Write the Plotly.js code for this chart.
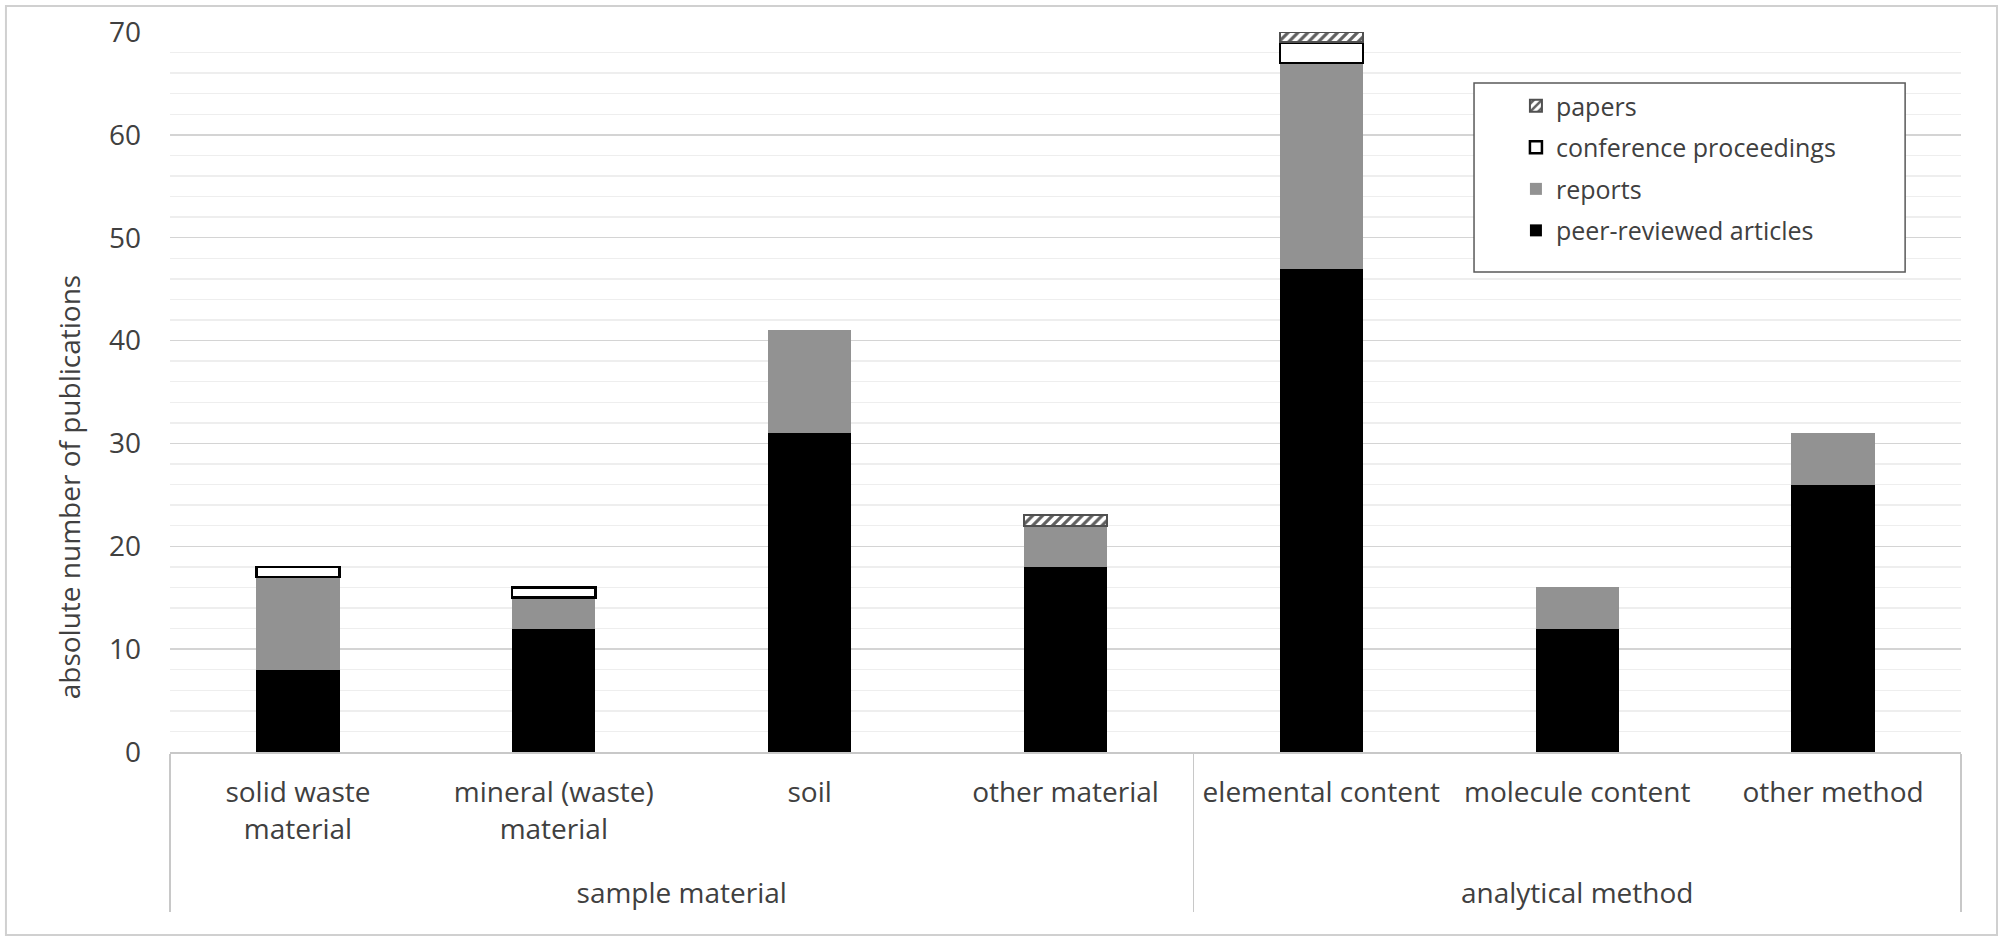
<!DOCTYPE html>
<html>
<head>
<meta charset="utf-8">
<script src="https://cdn.plot.ly/plotly-3.0.1.min.js"></script>
<style>
  body { margin: 0; background: #ffffff; }
  #chart { width: 2000px; height: 937px; }
</style>
</head>
<body>
<div id="chart"></div>
<script>
// Category data (two-level axis)
const groups = ["sample material", "sample material", "sample material", "sample material",
                "analytical method", "analytical method", "analytical method"];
const categories = ["solid waste<br>material", "mineral (waste)<br>material", "soil", "other material",
                    "elemental content", "molecule content", "other method"];

// Publication counts per type
const peerReviewed = [8, 12, 31, 18, 47, 12, 26];
const reports = [9, 3, 10, 4, 20, 4, 5];
const conference = [1, 1, 0, 0, 2, 0, 0];
const papers = [0, 0, 0, 1, 1, 0, 0];

// Empty segments should not draw an outline
const noZero = arr => arr.map(v => v === 0 ? null : v);

// small trailing line pushes the group labels a bit lower, like in Excel
const catLabels = categories.map(c => c.includes("<br>") ? c + "<br><span style='font-size:36px'>&nbsp;</span>" : c);

const xVals = [groups, catLabels];
const font = "Open Sans, sans-serif";

let tracePeer = {
    x: xVals, y: peerReviewed, name: "peer-reviewed articles", type: "bar",
    legendgroup: "a", legendrank: 4,
    marker: { color: "#000000", line: { width: 0 } }
};

let traceReports = {
    x: xVals, y: reports, name: "reports", type: "bar",
    legendgroup: "b", legendrank: 3,
    marker: { color: "#929292", line: { width: 0 } }
};

let traceConf = {
    x: xVals, y: noZero(conference), name: "conference proceedings", type: "bar",
    legendgroup: "c", legendrank: 2,
    marker: { color: "#ffffff", line: { color: "#000000", width: 2.5 } }
};

let tracePapers = {
    x: xVals, y: noZero(papers), name: "papers", type: "bar",
    legendgroup: "d", legendrank: 1,
    marker: {
        color: "#ffffff",
        line: { color: "#505050", width: 2 },
        pattern: { shape: "/", fgcolor: "#606060", bgcolor: "#ffffff", size: 7, solidity: 0.45 }
    }
};

let data = [tracePeer, traceReports, traceConf, tracePapers];

let layout = {
    width: 2000,
    height: 937,
    margin: { l: 170, r: 39, t: 32, b: 185 },
    paper_bgcolor: "#ffffff",
    plot_bgcolor: "#ffffff",
    barmode: "stack",
    bargap: 0.675,
    hovermode: false,
    font: { family: font, color: "#404040", size: 28 },
    xaxis: {
        type: "multicategory",
        showgrid: false,
        showline: true,
        linecolor: "#c8c8c8",
        linewidth: 1.5,
        ticks: "",
        ticklabelstandoff: 15,
        showdividers: true,
        dividercolor: "#c8c8c8",
        dividerwidth: 1.5,
        tickfont: { family: font, size: 28, color: "#404040" }
    },
    yaxis: {
        range: [0, 70],
        dtick: 10,
        tick0: 0,
        showgrid: true,
        gridcolor: "#d4d4d4",
        gridwidth: 1.5,
        zeroline: false,
        showline: false,
        ticks: "",
        ticklabelstandoff: 28,
        tickfont: { family: font, size: 28, color: "#404040" },
        minor: { dtick: 2, showgrid: true, gridcolor: "#eeeeee", gridwidth: 1.5 }
    },
    legend: {
        x: 0.7515, y: 0.929, xanchor: "left", yanchor: "top",
        traceorder: "grouped",
        tracegroupgap: 6,
        borderwidth: 0,
        bgcolor: "rgba(0,0,0,0)",
        font: { family: font, size: 25, color: "#404040" }
    },
    annotations: [
        // y axis title, centred on the whole chart height as Excel does
        { text: "absolute number of publications", xref: "paper", yref: "paper",
          x: -0.068, y: 0.368, textangle: -90, showarrow: false,
          font: { family: font, size: 28, color: "#404040" } }
    ],
    shapes: [
        // outer chart frame
        { type: "rect", xref: "paper", yref: "paper", x0: -0.0916, x1: 1.0201, y0: -0.254, y1: 1.036,
          line: { color: "#d0d0d0", width: 2 }, fillcolor: "rgba(0,0,0,0)" },
        // legend frame
        { type: "rect", xref: "paper", yref: "paper", x0: 0.7281, x1: 0.9688, y0: 0.6667, y1: 0.929,
          line: { color: "#595959", width: 1.5 }, fillcolor: "#ffffff", layer: "above" }
    ]
};

Plotly.newPlot("chart", data, layout, { staticPlot: true });
</script>
</body>
</html>
